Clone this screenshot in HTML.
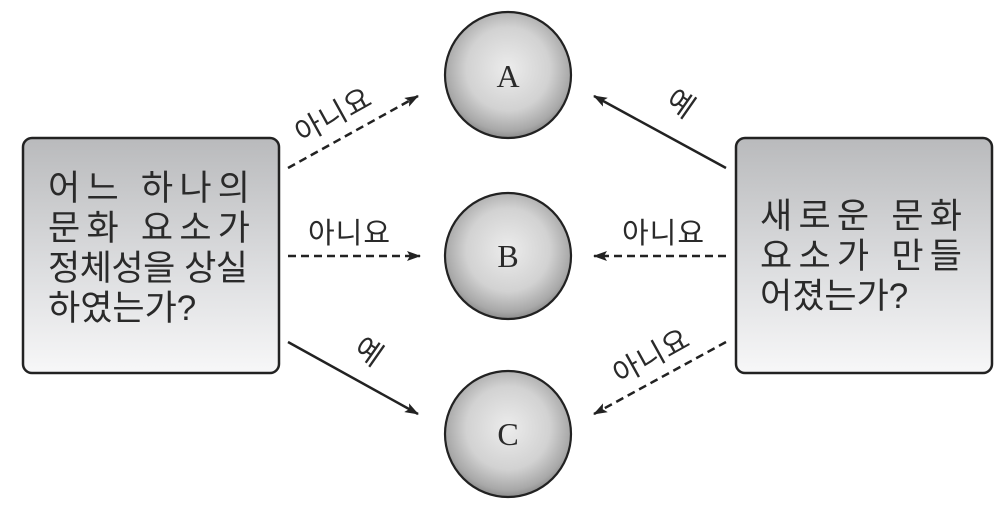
<!DOCTYPE html>
<html><head><meta charset="utf-8"><style>
body{margin:0;background:#fff}
svg{display:block}
text{font-family:"Liberation Sans","Noto Sans CJK KR","NanumGothic",sans-serif;fill:#2a2a2a}
</style></head><body>
<svg width="1005" height="512" viewBox="0 0 1005 512">
<defs>
<linearGradient id="bg" x1="0" y1="0" x2="0" y2="1">
<stop offset="0" stop-color="#b9babc"/><stop offset="0.55" stop-color="#dcdddf"/><stop offset="1" stop-color="#f7f7f8"/>
</linearGradient>
<radialGradient id="cg" cx="0.5" cy="0.45" r="0.55">
<stop offset="0" stop-color="#ececec"/><stop offset="0.6" stop-color="#d2d2d2"/><stop offset="0.9" stop-color="#a8a8a8"/><stop offset="1" stop-color="#8c8c8c"/>
</radialGradient>
<marker id="ah" markerWidth="14" markerHeight="10" refX="13" refY="5" orient="auto" markerUnits="userSpaceOnUse">
<path d="M0,0 L14,5 L0,10 L3,5 Z" fill="#222"/>
</marker>
</defs>
<rect x="23" y="138" width="256" height="235" rx="9" fill="url(#bg)" stroke="#222" stroke-width="2.5"/>
<rect x="736" y="138" width="256" height="235" rx="9" fill="url(#bg)" stroke="#222" stroke-width="2.5"/>
<g font-size="35">
<text x="48" y="200" textLength="202">어느 하나의</text>
<text x="48" y="240" textLength="202">문화 요소가</text>
<text x="48" y="280" textLength="200">정체성을 상실</text>
<text x="48" y="320">하였는가?</text>
<text x="760" y="228" textLength="202">새로운 문화</text>
<text x="760" y="268" textLength="202">요소가 만들</text>
<text x="760" y="308">어졌는가?</text>
</g>
<g stroke="#222" stroke-width="2.2">
<circle cx="508" cy="75" r="63" fill="url(#cg)"/>
<circle cx="508" cy="256" r="63" fill="url(#cg)"/>
<circle cx="508" cy="434" r="63" fill="url(#cg)"/>
</g>
<g font-size="32" text-anchor="middle">
<text x="508" y="87" style="font-family:'Liberation Serif',serif">A</text>
<text x="508" y="267" style="font-family:'Liberation Serif',serif">B</text>
<text x="508" y="445" style="font-family:'Liberation Serif',serif">C</text>
</g>
<g stroke="#222" stroke-width="2.5" fill="none" marker-end="url(#ah)">
<line x1="288" y1="168" x2="418" y2="96" stroke-dasharray="8,5"/>
<line x1="288" y1="256" x2="420" y2="256" stroke-dasharray="8,5"/>
<line x1="288" y1="342" x2="418" y2="414"/>
<line x1="726" y1="168" x2="594" y2="96"/>
<line x1="726" y1="256" x2="594" y2="256" stroke-dasharray="8,5"/>
<line x1="726" y1="342" x2="594" y2="414" stroke-dasharray="8,5"/>
</g>
<g font-size="29">
<text x="0" y="0" transform="translate(302,144) rotate(-29)" textLength="82">아니요</text>
<text x="308" y="243" textLength="82">아니요</text>
<text x="0" y="0" transform="translate(352,352) rotate(35)">예</text>
<text x="0" y="0" transform="translate(664,104) rotate(35)">예</text>
<text x="622" y="243" textLength="82">아니요</text>
<text x="0" y="0" transform="translate(620,385) rotate(-29)" textLength="82">아니요</text>
</g>
</svg>
</body></html>
